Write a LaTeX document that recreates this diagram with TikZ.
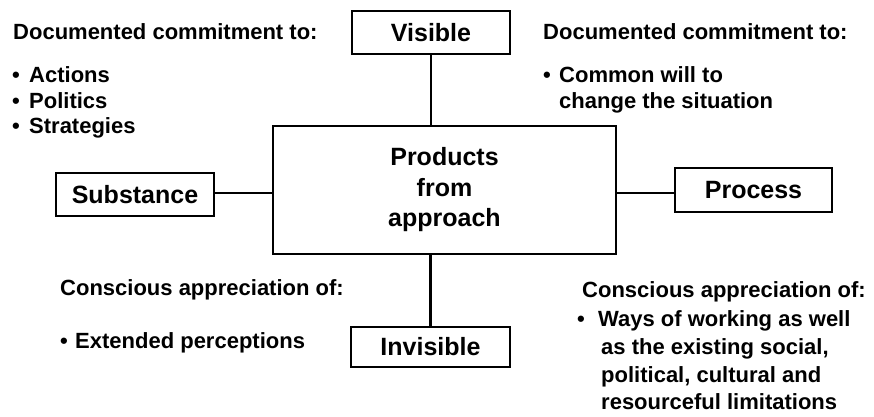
\documentclass[tikz,border=0pt]{standalone}
\usepackage{fontspec}
\setmainfont{Liberation Sans}
\begin{document}
\begin{tikzpicture}[x=1pt,y=-1pt,
  box/.style={draw, line width=2.8pt, inner sep=0pt, font=\fontsize{25}{30}\selectfont\bfseries},
  lbl/.style={inner sep=0pt, anchor=base west, font=\fontsize{22}{26}\selectfont\bfseries},
  conn/.style={line width=2.8pt}]
\useasboundingbox (0,0) rectangle (874,416);
% boxes
\node[box, minimum width=343pt, minimum height=128pt, align=center,
      font=\fontsize{25}{30.5}\selectfont\bfseries] (main) at (444.5,190) {Products\\from\\approach};
\node[box, minimum width=158pt, minimum height=43pt] (vis) at (431,32.5) {Visible};
\node[box, minimum width=158pt, minimum height=43pt] (sub) at (135,194.5) {Substance};
\node[box, minimum width=157pt, minimum height=44pt] (proc) at (753.5,190) {Process};
\node[box, minimum width=159pt, minimum height=40pt] (inv) at (430.5,347) {Invisible};
% connectors
\draw[conn] (vis.south) -- (vis.south |- main.north);
\draw[conn] (inv.north) -- (inv.north |- main.south);
\draw[conn] ([yshift=1.5pt]sub.east) -- ([yshift=1.5pt]sub.east -| main.west);
\draw[conn] ([yshift=-3pt]proc.west) -- ([yshift=-3pt]proc.west -| main.east);
% top left
\node[lbl] (tlh) at (13,39) {Documented commitment to:};
\node[lbl] (tlb1) at (12,82) {•};
\node[lbl] (tlb2) at (12,108) {•};
\node[lbl] (tlb3) at (12,133) {•};
\node[lbl] (tlt1) at (29,82) {Actions};
\node[lbl] (tlt2) at (29,108) {Politics};
\node[lbl] (tlt3) at (29,133) {Strategies};
% top right
\node[lbl] (trh) at (543,39) {Documented commitment to:};
\node[lbl] (trb1) at (543,82) {•};
\node[lbl] (trt1) at (559,82) {Common will to};
\node[lbl] (trt2) at (559,108) {change the situation};
% bottom left
\node[lbl] (blh) at (60,295) {Conscious appreciation of:};
\node[lbl] (blb1) at (60,348) {•};
\node[lbl] (blt1) at (75,348) {Extended perceptions};
% bottom right
\node[lbl] (brh) at (582,297) {Conscious appreciation of:};
\node[lbl] (brb1) at (577,326) {•};
\node[lbl] (brt1) at (598,326) {Ways of working as well};
\node[lbl] (brt2) at (601,354) {as the existing social,};
\node[lbl] (brt3) at (601,382) {political, cultural and};
\node[lbl] (brt4) at (601,409) {resourceful limitations};
\end{tikzpicture}
\end{document}
